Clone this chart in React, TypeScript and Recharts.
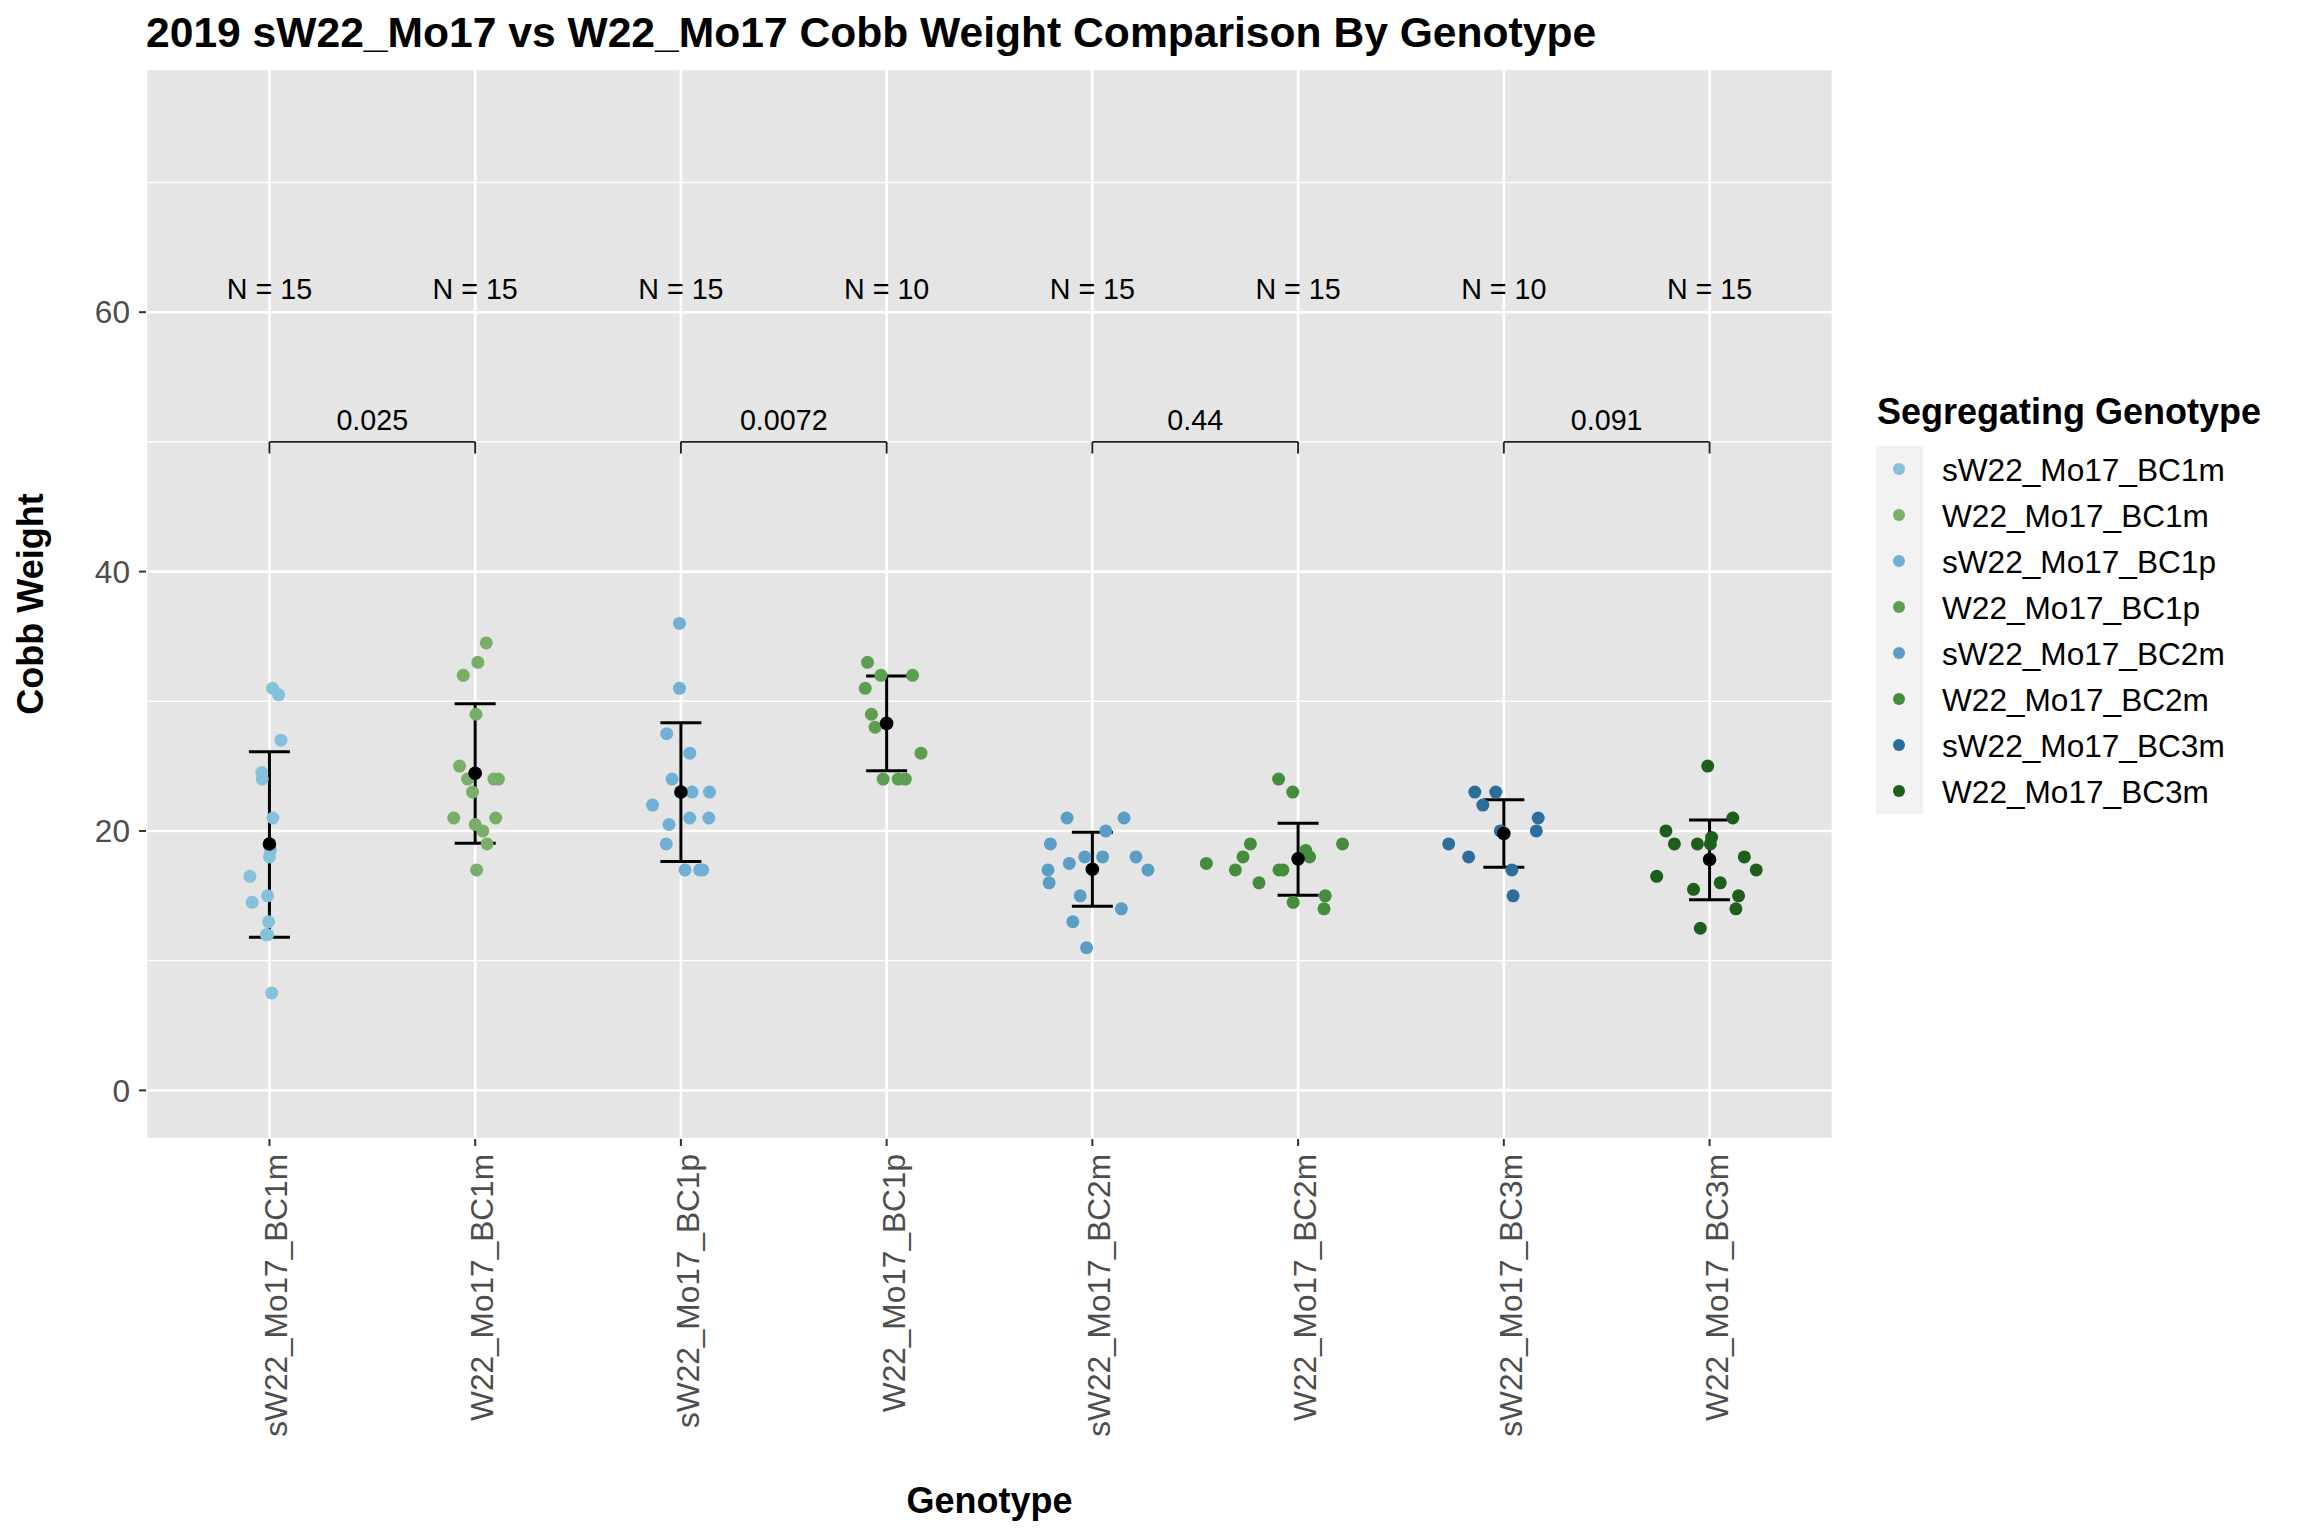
import React from "react"
import {
  ComposedChart,
  Scatter,
  XAxis,
  YAxis,
  CartesianGrid,
  ReferenceLine,
  ErrorBar,
  Label,
} from "recharts"

// genotype order on the x axis
const genotypes = [
  "sW22_Mo17_BC1m",
  "W22_Mo17_BC1m",
  "sW22_Mo17_BC1p",
  "W22_Mo17_BC1p",
  "sW22_Mo17_BC2m",
  "W22_Mo17_BC2m",
  "sW22_Mo17_BC3m",
  "W22_Mo17_BC3m",
]

const colors = [
  "#85C0DC",
  "#78AE68",
  "#70B0D4",
  "#5E9E52",
  "#5A9DC5",
  "#458C3D",
  "#2B6E9C",
  "#1D5E1C",
]

// cobb weights per genotype
const bc1mS = [31, 30.5, 27, 24.5, 24, 21, 18.5, 18, 16.5, 15, 14.5, 13, 12, 12, 7.5]
const bc1mW = [34.5, 33, 32, 29, 25, 24, 24, 24, 23, 21, 21, 20.5, 20, 19, 17]
const bc1pS = [36, 31, 27.5, 26, 24, 23, 23, 22, 21, 21, 20.5, 19, 17, 17, 17]
const bc1pW = [33, 32, 32, 31, 29, 28, 26, 24, 24, 24]
const bc2mS = [21, 21, 20, 19, 18, 18, 18, 17.5, 17, 17, 16, 15, 14, 13, 11]
const bc2mW = [24, 23, 19, 19, 18.5, 18, 18, 17.5, 17, 17, 17, 16, 15, 14.5, 14]
const bc3mS = [23, 23, 22, 21, 20, 20, 19, 18, 17, 15]
const bc3mW = [25, 21, 20, 19, 19, 19, 19.5, 18, 17, 16.5, 16, 15.5, 15, 14, 12.5]

// horizontal jitter of each point (in category units)
const bc1mSJit = [0.015, 0.045, 0.056, -0.037, -0.035, 0.017, 0.005, 0, -0.095, -0.009, -0.084, -0.004, -0.015, -0.009, 0.011]
const bc1mWJit = [0.054, 0.013, -0.058, 0.004, -0.076, -0.037, 0.091, 0.113, -0.013, -0.104, 0.1, 0, 0.037, 0.058, 0.007]
const bc1pSJit = [-0.007, -0.007, -0.069, 0.043, -0.043, 0.054, 0.139, -0.138, 0.043, 0.136, -0.058, -0.071, 0.02, 0.091, 0.106]
const bc1pWJit = [-0.093, -0.028, 0.126, -0.104, -0.074, -0.056, 0.167, -0.017, 0.056, 0.091]
const bc2mSJit = [-0.123, 0.154, 0.065, -0.204, -0.037, 0.05, 0.212, -0.112, -0.216, 0.27, -0.21, -0.059, 0.141, -0.095, -0.028]
const bc2mWJit = [-0.095, -0.026, -0.232, 0.216, 0.037, -0.268, 0.056, -0.446, -0.305, -0.093, -0.074, -0.19, 0.132, -0.024, 0.126]
const bc3mSJit = [-0.141, -0.039, -0.102, 0.167, 0.158, -0.017, -0.268, -0.171, 0.039, 0.045]
const bc3mWJit = [-0.009, 0.113, -0.212, -0.171, -0.059, 0.004, 0.01, 0.169, 0.227, -0.257, 0.052, -0.078, 0.141, 0.128, -0.045]

const groupValues = [bc1mS, bc1mW, bc1pS, bc1pW, bc2mS, bc2mW, bc3mS, bc3mW]
const groupJitter = [bc1mSJit, bc1mWJit, bc1pSJit, bc1pWJit, bc2mSJit, bc2mWJit, bc3mSJit, bc3mWJit]

// mean +/- sd summary
const means = [19.0, 24.45, 23.0, 28.3, 17.05, 17.85, 19.8, 17.8]
const upper = [26.1, 29.8, 28.35, 31.95, 19.9, 20.6, 22.4, 20.85]
const lower = [11.8, 19.05, 17.65, 24.65, 14.2, 15.05, 17.2, 14.7]

const nLabels = ["N = 15", "N = 15", "N = 15", "N = 10", "N = 15", "N = 15", "N = 10", "N = 15"]
const nLabelY = 61.85

// pairwise comparisons
const pairs = [[1, 2], [3, 4], [5, 6], [7, 8]]
const pValues = ["0.025", "0.0072", "0.44", "0.091"]
const bracketY = 50
const bracketTipY = 49.1
const pLabelY = 51.75

const yTicks = [0, 20, 40, 60]
const yMinor = [10, 30, 50, 70]
const xTicks = [1, 2, 3, 4, 5, 6, 7, 8]

const FONT = "'Liberation Sans', Arial, Helvetica, sans-serif"

const pointData = groupValues.map((vals, g) =>
  vals.map((v, i) => ({ x: g + 1 + groupJitter[g][i], y: v }))
)

const meanData = means.map((m, i) => ({
  x: i + 1,
  y: m,
  err: [m - lower[i], upper[i] - m],
}))

const nData = nLabels.map((label, i) => ({ x: i + 1, y: nLabelY, label }))
const pData = pairs.map((p, i) => ({ x: (p[0] + p[1]) / 2, y: pLabelY, label: pValues[i] }))

const dot = (color: string, r: number) => (props: any) => {
  if (props.cx == null || props.cy == null) return <g />
  return <circle cx={props.cx} cy={props.cy} r={r} fill={color} />
}

const textShape = (props: any) => {
  if (props.cx == null || props.cy == null) return <g />
  const label = props.payload?.label ?? props.label
  return (
    <text
      x={props.cx}
      y={props.cy}
      dy="0.36em"
      textAnchor="middle"
      fontSize={28.7}
      fill="#000"
      fontFamily={FONT}
    >
      {label}
    </text>
  )
}

const GenotypeTick = (props: any) => {
  const { x, y, payload } = props
  return (
    <g transform={`translate(${x},${y})`}>
      <text
        transform="rotate(-90)"
        x={0}
        y={18}
        textAnchor="end"
        fontSize={31.6}
        fill="#4D4D4D"
        fontFamily={FONT}
      >
        {genotypes[payload.value - 1]}
      </text>
    </g>
  )
}

const YTitle = (props: any) => {
  const vb = props.viewBox || { x: 0, y: 0, width: 0, height: 0 }
  const cy = vb.y + vb.height / 2
  return (
    <text
      transform={`translate(${vb.x + 43},${cy}) rotate(-90)`}
      textAnchor="middle"
      fontSize={36}
      fontWeight="bold"
      fill="#000"
      fontFamily={FONT}
    >
      Cobb Weight
    </text>
  )
}

export default function App() {
  return (
    <div style={{ position: "absolute", left: 0, top: 0, width: 2304, height: 1536, background: "#fff", fontFamily: FONT }}>
      <ComposedChart width={2304} height={1536} margin={{ top: 69, right: 471, bottom: 0, left: 0 }}>
        <CartesianGrid
          fill="#E5E5E5"
          fillOpacity={1}
          stroke="#FFFFFF"
          strokeWidth={1.3}
          vertical={false}
          horizontalValues={yMinor}
        />
        <CartesianGrid stroke="#FFFFFF" strokeWidth={2.6} />
        <XAxis
          type="number"
          dataKey="x"
          domain={[0.4, 8.6]}
          ticks={xTicks}
          allowDataOverflow
          height={397}
          axisLine={false}
          tickSize={7}
          tickMargin={8}
          tickLine={{ stroke: "#333333", strokeWidth: 2 }}
          tick={<GenotypeTick />}
          interval={0}
        >
          <Label
            value="Genotype"
            position="insideBottom"
            offset={23}
            fontSize={36}
            fontWeight="bold"
            fill="#000"
            fontFamily={FONT}
          />
        </XAxis>
        <YAxis
          type="number"
          dataKey="y"
          domain={[-3.75, 78.75]}
          ticks={yTicks}
          allowDataOverflow
          width={146}
          axisLine={false}
          tickSize={7}
          tickMargin={9}
          tickLine={{ stroke: "#333333", strokeWidth: 2 }}
          tick={{ fontSize: 31.6, fill: "#4D4D4D", fontFamily: FONT }}
        >
          <Label content={<YTitle />} />
        </YAxis>

        {pointData.map((d, g) => (
          <Scatter
            key={genotypes[g]}
            name={genotypes[g]}
            data={d}
            shape={dot(colors[g], 6.5)}
            isAnimationActive={false}
          />
        ))}

        <Scatter data={meanData} shape={dot("#000000", 6.8)} isAnimationActive={false}>
          <ErrorBar
            dataKey="err"
            direction="y"
            width={20.5}
            stroke="#000000"
            strokeWidth={3}
            isAnimationActive={false}
          />
        </Scatter>

        {pairs.map((p, i) => (
          <ReferenceLine
            key={`h${i}`}
            segment={[{ x: p[0], y: bracketY }, { x: p[1], y: bracketY }]}
            stroke="#222222"
            strokeWidth={1.9}
          />
        ))}
        {pairs.flat().map((x, i) => (
          <ReferenceLine
            key={`v${i}`}
            segment={[{ x, y: bracketY }, { x, y: bracketTipY }]}
            stroke="#222222"
            strokeWidth={1.9}
          />
        ))}

        <Scatter data={nData} shape={textShape} isAnimationActive={false} />
        <Scatter data={pData} shape={textShape} isAnimationActive={false} />
      </ComposedChart>

      <svg
        width={2304}
        height={1536}
        style={{ position: "absolute", left: 0, top: 0, pointerEvents: "none" }}
        fontFamily={FONT}
      >
        <text x={146} y={47} fontSize={42.6} fontWeight="bold" fill="#000">
          2019 sW22_Mo17 vs W22_Mo17 Cobb Weight Comparison By Genotype
        </text>
        <text x={1877} y={424} fontSize={36} fontWeight="bold" fill="#000">
          Segregating Genotype
        </text>
        <rect x={1876} y={446} width={47} height={368} fill="#F2F2F2" />
        {genotypes.map((g, i) => (
          <g key={g}>
            <circle cx={1899} cy={469 + 46 * i} r={6} fill={colors[i]} />
            <text x={1942} y={469 + 46 * i + 11.5} fontSize={31.6} fill="#000">
              {g}
            </text>
          </g>
        ))}
      </svg>
    </div>
  )
}
